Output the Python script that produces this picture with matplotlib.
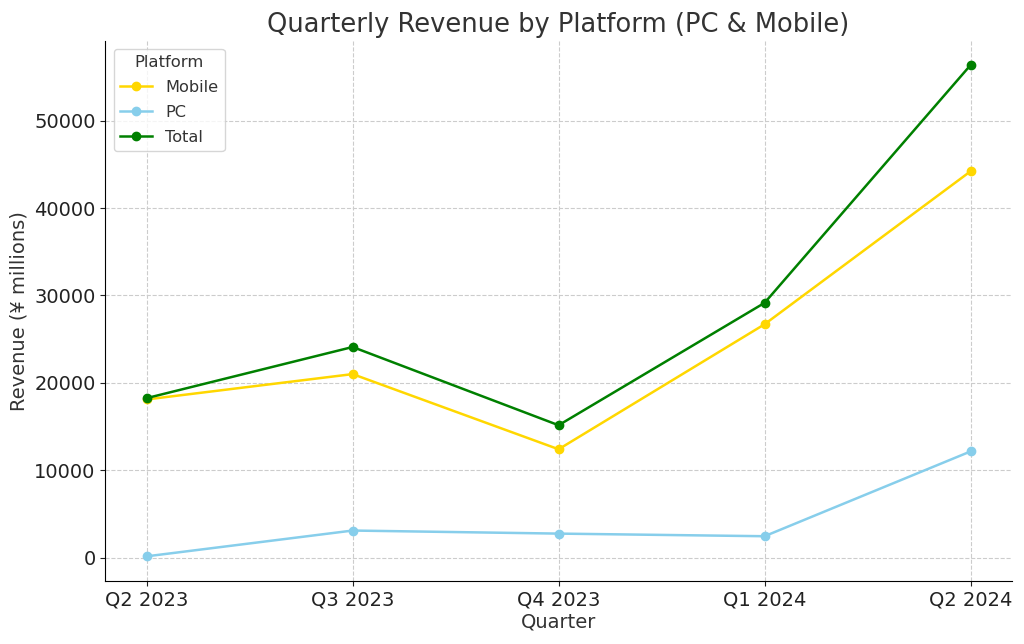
import matplotlib
matplotlib.use('Agg')
import matplotlib.pyplot as plt

# quarterly revenue, ¥ millions
quarters = ['Q2 2023', 'Q3 2023', 'Q4 2023', 'Q1 2024', 'Q2 2024']
mobile = [18100, 21000, 12400, 26700, 44200]
pc = [150, 3100, 2750, 2450, 12150]
total = [18250, 24100, 15150, 29150, 56350]


def main():
    plt.rcParams['font.family'] = ['DejaVu Sans']
    plt.rcParams['text.color'] = '#333333'
    plt.rcParams['axes.labelcolor'] = '#333333'
    plt.rcParams['xtick.color'] = '#222222'
    plt.rcParams['ytick.color'] = '#222222'

    fig, ax = plt.subplots(figsize=(10.24, 6.44), dpi=100)
    ax.plot(quarters, mobile, marker='o', color='gold', label='Mobile', linewidth=1.8, markersize=6)
    ax.plot(quarters, pc, marker='o', color='skyblue', label='PC', linewidth=1.8, markersize=6)
    ax.plot(quarters, total, marker='o', color='green', label='Total', linewidth=1.8, markersize=6)

    ax.set_title('Quarterly Revenue by Platform (PC & Mobile)', fontsize=18.5, color='#333333')
    ax.set_xlabel('Quarter', fontsize=14, labelpad=2)
    ax.set_ylabel('Revenue (¥ millions)', fontsize=14)
    ax.tick_params(labelsize=14)
    ax.grid(True, linestyle='--', color='#cccccc', linewidth=0.8)
    ax.spines['top'].set_visible(False)
    ax.spines['right'].set_visible(False)
    ax.legend(title='Platform', loc='upper left', fontsize=11.6, title_fontsize=11.8,
              labelspacing=0.62)

    fig.subplots_adjust(left=0.103, right=0.988, top=0.937, bottom=0.098)
    fig.savefig('out.png')


if __name__ == '__main__':
    main()
